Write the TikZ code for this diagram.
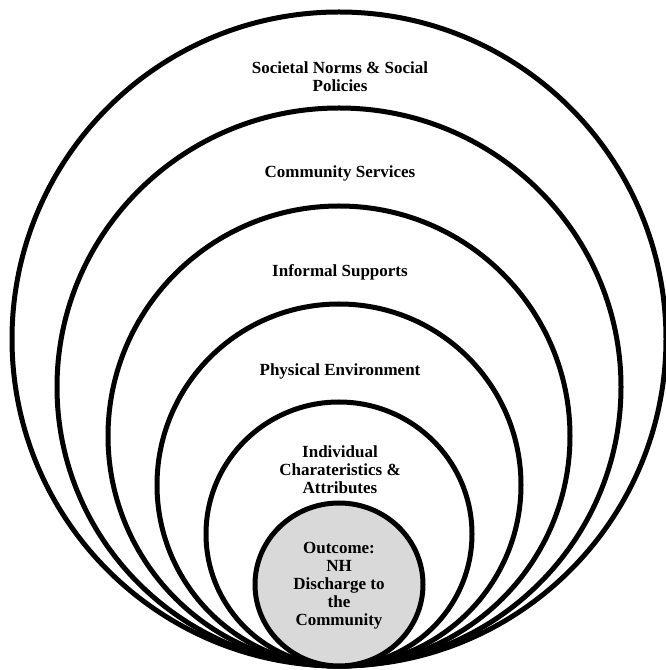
\documentclass[tikz,border=0pt]{standalone}
\usepackage{fontspec}
\setmainfont{Liberation Serif}
\begin{document}
\begin{tikzpicture}[x=1pt,y=1pt,
  ring/.style={line width=5pt},
  lbl/.style={font=\fontsize{17}{18}\selectfont\bfseries, align=center, inner sep=0pt}]
\useasboundingbox (0,0) rectangle (665,670);
% image y -> tikz y = 670 - y
\draw[ring] (339,331) ellipse [x radius=327, y radius=327];
\draw[ring] (339,283) ellipse [x radius=282, y radius=279];
\draw[ring] (339,234) ellipse [x radius=231, y radius=230];
\draw[ring] (339,185) ellipse [x radius=182, y radius=181];
\draw[ring] (339,136) ellipse [x radius=133, y radius=132];
\draw[ring, fill={rgb,255:red,217;green,217;blue,217}] (339,85.5) ellipse [x radius=84, y radius=81.5];
\node[lbl] (societal) at (340,593) {Societal Norms \& Social\\Policies};
\node[lbl] (community) at (340,497) {Community Services};
\node[lbl] (informal) at (340,398) {Informal Supports};
\node[lbl] (physical) at (340,299) {Physical Environment};
\node[lbl] (individual) at (340,200) {Individual\\Charateristics \&\\Attributes};
\node[lbl] (outcome) at (339,84) {Outcome:\\NH\\Discharge to\\the\\Community};
\end{tikzpicture}
\end{document}
